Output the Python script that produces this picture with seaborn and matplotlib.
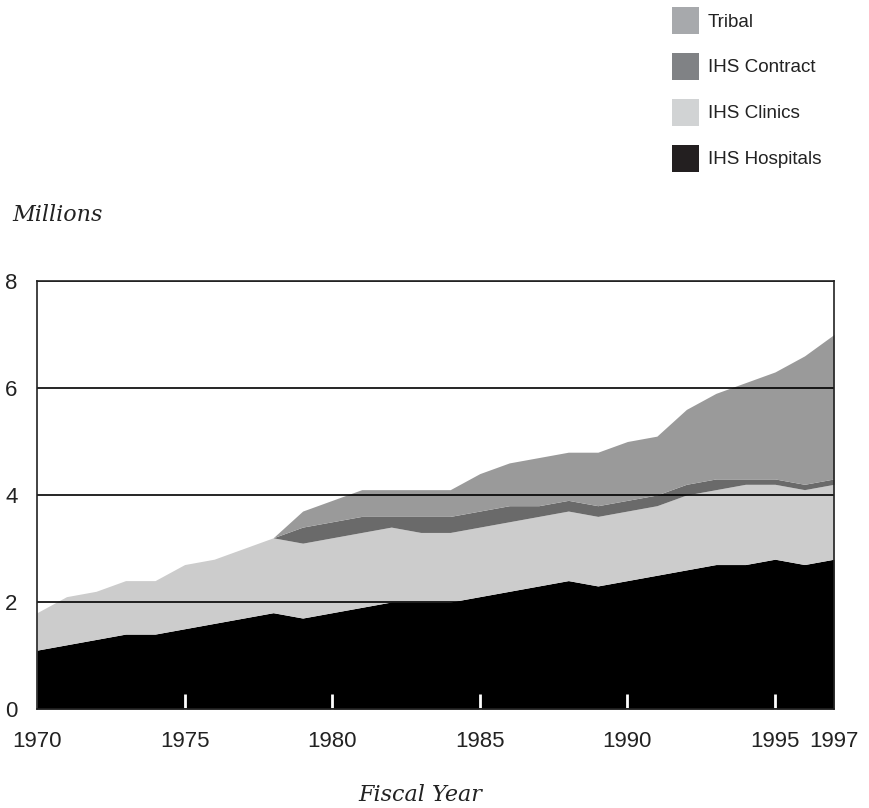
import matplotlib
matplotlib.use("Agg")
import matplotlib.pyplot as plt
from matplotlib.patches import Patch
import seaborn as sns

# ===== DATA (millions) =====
years = list(range(1970, 1998))
hospitals = [1.1, 1.2, 1.3, 1.4, 1.4, 1.5, 1.6, 1.7, 1.8, 1.7,
             1.8, 1.9, 2.0, 2.0, 2.0, 2.1, 2.2, 2.3, 2.4, 2.3,
             2.4, 2.5, 2.6, 2.7, 2.7, 2.8, 2.7, 2.8]
clinics = [0.7, 0.9, 0.9, 1.0, 1.0, 1.2, 1.2, 1.3, 1.4, 1.4,
           1.4, 1.4, 1.4, 1.3, 1.3, 1.3, 1.3, 1.3, 1.3, 1.3,
           1.3, 1.3, 1.4, 1.4, 1.5, 1.4, 1.4, 1.4]
contract = [0, 0, 0, 0, 0, 0, 0, 0, 0, 0.3,
            0.3, 0.3, 0.2, 0.3, 0.3, 0.3, 0.3, 0.2, 0.2, 0.2,
            0.2, 0.2, 0.2, 0.2, 0.1, 0.1, 0.1, 0.1]
tribal = [0, 0, 0, 0, 0, 0, 0, 0, 0, 0.3,
          0.4, 0.5, 0.5, 0.5, 0.5, 0.7, 0.8, 0.9, 0.9, 1.0,
          1.1, 1.1, 1.4, 1.6, 1.8, 2.0, 2.4, 2.7]

series_labels = ["IHS Hospitals", "IHS Clinics", "IHS Contract", "Tribal"]
area_colors = ["#000000", "#cccccc", "#6a6a6a", "#9a9a9a"]
legend_colors = ["#231f20", "#d1d3d4", "#808285", "#a7a9ac"]

x_ticks = [1970, 1975, 1980, 1985, 1990, 1995, 1997]
y_ticks = [0, 2, 4, 6, 8]

sns.set_style("white")
plt.rcParams['font.family'] = ['Liberation Sans', 'DejaVu Sans']

fig = plt.figure(figsize=(8.7, 8.08), dpi=100)
ax = fig.add_axes([37 / 870, 99 / 808, 797 / 870, 428 / 808])

ax.stackplot(years, hospitals, clinics, contract, tribal,
             colors=area_colors, linewidth=0, zorder=1)

ax.set_xlim(1970, 1997)
ax.set_ylim(0, 8)
ax.set_xticks(x_ticks)
ax.set_xticklabels([str(t) for t in x_ticks])
ax.set_yticks(y_ticks)

# gridlines on top of the areas
ax.yaxis.grid(True, color="black", linewidth=1.2)
ax.xaxis.grid(False)
ax.set_axisbelow(False)

for sp in ax.spines.values():
    sp.set_color("#222222")
    sp.set_linewidth(1.2)
    sp.set_zorder(4)

ax.tick_params(axis="x", bottom=True, direction="in", length=11, width=2,
               color="white", pad=16, labelsize=16, labelcolor="#222222")
ax.tick_params(axis="y", left=False, length=0, pad=14, labelsize=16,
               labelcolor="#222222")
xt = ax.xaxis.get_major_ticks()
xt[0].tick1line.set_visible(False)
xt[-1].tick1line.set_visible(False)

serif = ["DejaVu Serif", "Liberation Serif"]
fig.text(12 / 870, 1 - 215 / 808, "Millions", family=serif, style="italic",
         fontsize=16, color="#222222", va="center", ha="left")
fig.text(420 / 870, 1 - 795 / 808, "Fiscal Year", family=serif, style="italic",
         fontsize=16, color="#222222", va="center", ha="center")

handles = [Patch(facecolor=legend_colors[i], edgecolor="none", label=series_labels[i])
           for i in [3, 2, 1, 0]]
fig.legend(handles=handles, loc="upper left", bbox_to_anchor=(672 / 870, 1 - 7 / 808),
           frameon=False, fontsize=13.6, handlelength=1.43, handleheight=1.82,
           handletextpad=0.45, labelspacing=1.0, borderpad=0, borderaxespad=0,
           labelcolor="#222222")

plt.savefig("out.png", dpi=100)
plt.close()
